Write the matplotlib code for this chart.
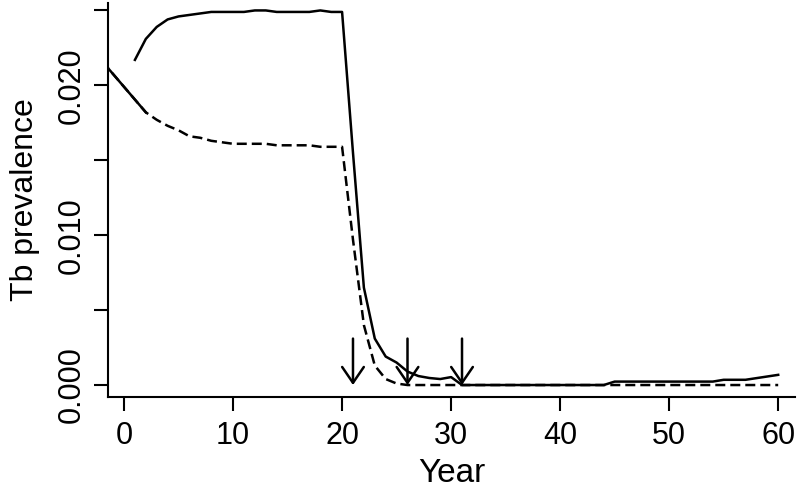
import numpy as np
import matplotlib
matplotlib.use("Agg")
import matplotlib.pyplot as plt

# ---- data ----
years = list(range(1, 61))
prev_solid = [
    0.0217, 0.0231, 0.0239, 0.0244, 0.0246, 0.0247, 0.0248, 0.0249, 0.0249, 0.0249,
    0.0249, 0.0250, 0.0250, 0.0249, 0.0249, 0.0249, 0.0249, 0.0250, 0.0249, 0.0249,
    0.0155, 0.0065, 0.0031, 0.0019, 0.0015, 0.0009, 0.0006, 0.00047, 0.0004, 0.00053,
    0.0, 0.0, 0.0, 0.0, 0.0, 0.0, 0.0, 0.0, 0.0, 0.0,
    0.0, 0.0, 0.0, 0.0, 0.00023, 0.00023, 0.00023, 0.00023, 0.00023, 0.00023,
    0.00023, 0.00023, 0.00023, 0.00023, 0.00035, 0.00035, 0.00035, 0.00046, 0.00057, 0.00068,
]

years_dash = [-2] + list(range(2, 61))
prev_dash = [
    0.0216, 0.0182, 0.0177, 0.0173, 0.0170, 0.0166, 0.0165, 0.0163, 0.0162, 0.0161,
    0.0161, 0.0161, 0.0161, 0.0160, 0.0160, 0.0160, 0.0160, 0.0159, 0.0159, 0.0159,
    0.0097, 0.0040, 0.0013, 0.0004, 0.0001,
] + [0.0] * 35

arrow_years = [21, 26, 31]
arrow_top = 0.0031

# ---- plot ----
plt.rcParams['font.family'] = ['Liberation Sans', 'DejaVu Sans']

fig = plt.figure(figsize=(8, 4.91), dpi=100)
ax = fig.add_axes([0.135, 0.1914, 0.859, 0.8026])

lw = 1.8
ax.plot(years, prev_solid, color='black', lw=lw)
ax.plot(years_dash, prev_dash, color='black', lw=lw, dashes=(4, 2))
# the first stretch of the dashed series is drawn solid
ax.plot(years_dash[:2], prev_dash[:2], color='black', lw=lw)

for yr in arrow_years:
    ax.annotate('', xy=(yr, 0.0), xytext=(yr, arrow_top),
                arrowprops=dict(arrowstyle='->, head_length=0.38, head_width=0.26',
                                lw=lw, color='black', mutation_scale=30,
                                shrinkA=0, shrinkB=0))

ax.set_xlim(-1.47, 61.56)
ax.set_ylim(-0.0008, 0.0255)

ax.set_xticks([0, 10, 20, 30, 40, 50, 60])
ax.set_yticks([0.0, 0.005, 0.010, 0.015, 0.020, 0.025])
ax.set_yticklabels(['0.000', '', '0.010', '', '0.020', ''], rotation=90, va='center')

ax.spines['top'].set_visible(False)
ax.spines['right'].set_visible(False)
for s in ['left', 'bottom']:
    ax.spines[s].set_linewidth(1.5)

ax.tick_params(axis='both', direction='out', length=10, width=1.5, labelsize=22)
ax.tick_params(axis='x', pad=7)
ax.tick_params(axis='y', pad=5)

ax.set_xlabel('Year', fontsize=24, labelpad=5)
ax.set_ylabel('Tb prevalence', fontsize=23, labelpad=12)

fig.savefig('out.png', dpi=100)
